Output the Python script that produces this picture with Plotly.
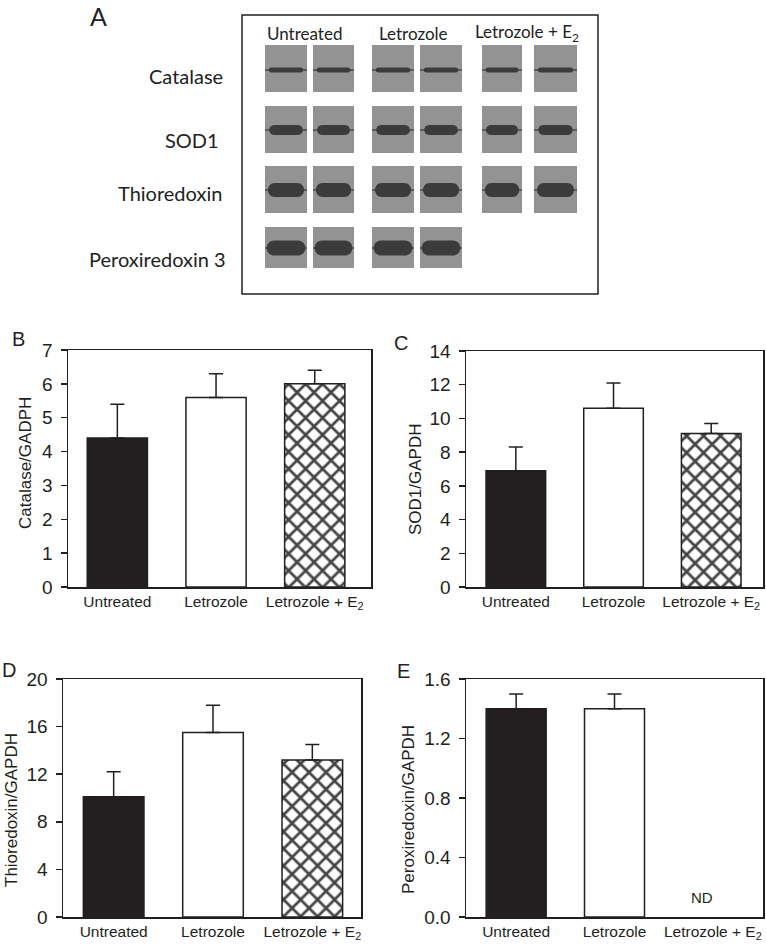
import plotly.graph_objects as go

W, H = 766, 949

# ---------------- data ----------------
categories = ["Untreated", "Letrozole", "Letrozole + E<sub>2</sub>"]
catalase = [4.4, 5.6, 6.0]
catalase_err = [1.0, 0.7, 0.4]
sod1 = [6.9, 10.6, 9.1]
sod1_err = [1.4, 1.5, 0.6]
thioredoxin = [10.1, 15.5, 13.2]
thioredoxin_err = [2.1, 2.3, 1.3]
peroxiredoxin = [1.4, 1.4, None]
peroxiredoxin_err = [0.1, 0.1, 0.0]

blot_rows = ["Catalase", "SOD1", "Thioredoxin", "Peroxiredoxin 3"]
blot_groups = ["Untreated", "Letrozole", "Letrozole + E<sub>2</sub>"]
blot_lanes_per_row = [6, 6, 6, 4]

# ---------------- layout helpers ----------------
def xd(a, b):
    return [a / W, b / W]

def yd(top, bottom):
    return [1 - bottom / H, 1 - top / H]

bar_colors = ["#231f20", "white", "white"]
pattern_shapes = ["", "", "x"]

fig = go.Figure()

panels = [
    (catalase, catalase_err, "x", "y", xd(68, 371), yd(350, 587), [-0.5, 2.57], [0, 7], 1, None),
    (sod1, sod1_err, "x2", "y2", xd(466, 763), yd(351, 587), [-0.51, 2.53], [0, 14], 2, None),
    (thioredoxin, thioredoxin_err, "x3", "y3", xd(63, 361), yd(679, 917), [-0.51, 2.49], [0, 20], 4, None),
    (peroxiredoxin, peroxiredoxin_err, "x4", "y4", xd(466, 763), yd(679, 917), [-0.51, 2.51], [0, 1.6], 0.4, ".1f"),
]

axis_font = dict(family="Liberation Sans, Arial", size=19, color="#231f20")
cat_font = dict(family="Liberation Sans, Arial", size=15.5, color="#231f20")

layout_axes = {}
for i, (vals, errs, xa, ya, xdom, ydom, xr, yr, dt, fmt) in enumerate(panels):
    fig.add_trace(go.Bar(
        x=categories, y=vals, xaxis=xa, yaxis=ya, width=0.61,
        marker=dict(color=bar_colors, line=dict(color="#231f20", width=1.5),
                    pattern=dict(shape=pattern_shapes, fgcolor="#000000", bgcolor="white",
                                 fgopacity=1, size=12, solidity=0.4)),
        error_y=dict(type="data", symmetric=False, array=errs, arrayminus=[0, 0, 0],
                     color="#231f20", thickness=1.5, width=7),
        showlegend=False, hoverinfo="skip",
    ))
    xk = "xaxis" if xa == "x" else "xaxis" + xa[1:]
    yk = "yaxis" if ya == "y" else "yaxis" + ya[1:]
    layout_axes[xk] = dict(domain=xdom, anchor=ya, range=xr, showline=True, mirror=True,
                           linecolor="#231f20", linewidth=1.5, ticks="", showgrid=False,
                           zeroline=False, tickfont=cat_font, type="category", fixedrange=True,
                           automargin=False)
    yax = dict(domain=ydom, anchor=xa, range=yr, dtick=dt, tick0=0, showline=True, mirror=True,
               linecolor="#231f20", linewidth=1.5, ticks="outside", ticklen=6, tickwidth=1.5,
               tickcolor="#231f20", showgrid=False, zeroline=False, tickfont=axis_font,
               ticklabelstandoff=4, fixedrange=True, automargin=False)
    if fmt:
        yax["tickformat"] = fmt
    layout_axes[yk] = yax

# overlay pixel axis for panel A and free text
layout_axes["xaxis5"] = dict(domain=[0, 1], anchor="y5", range=[0, W], visible=False,
                             fixedrange=True, automargin=False)
layout_axes["yaxis5"] = dict(domain=[0, 1], anchor="x5", range=[H, 0], visible=False,
                             fixedrange=True, automargin=False)
fig.add_trace(go.Scatter(x=[0], y=[0], xaxis="x5", yaxis="y5", mode="markers",
                         marker=dict(opacity=0), showlegend=False, hoverinfo="skip"))

fig.update_layout(**layout_axes)

shapes = []
annotations = []

shapes.append(dict(type="rect", xref="x5", yref="y5", x0=242, x1=598, y0=15, y1=294,
                   line=dict(color="#222", width=1.5), fillcolor="rgba(0,0,0,0)"))

lane_x = [(265, 307), (313, 354), (372, 414), (420, 462), (482, 522), (534, 577)]
row_y = [(45, 92), (106, 153), (166, 213), (227, 268)]
band_cy = [70, 130, 190, 248]
band_h = [5, 10, 14, 15]
band_wf = [0.82, 0.8, 0.86, 0.92]
row_label_y = [76, 140, 193, 259]
row_label_right = [225, 221, 224, 228]

def stadium(cx, cy, hw, hh):
    r = hh
    k = 4.0 / 3.0 * r
    x0, x1 = cx - hw + r, cx + hw - r
    return (f"M {x0},{cy-hh} L {x1},{cy-hh} C {x1+k},{cy-hh} {x1+k},{cy+hh} {x1},{cy+hh} "
            f"L {x0},{cy+hh} C {x0-k},{cy+hh} {x0-k},{cy-hh} {x0},{cy-hh} Z")

for ri in range(len(blot_rows)):
    for li in range(blot_lanes_per_row[ri]):
        a, b = lane_x[li]
        t, btm = row_y[ri]
        shapes.append(dict(type="rect", xref="x5", yref="y5", x0=a, x1=b, y0=t, y1=btm,
                           line=dict(width=0), fillcolor="#939393", layer="above"))
        cy = band_cy[ri]
        shapes.append(dict(type="line", xref="x5", yref="y5", x0=a, x1=b, y0=cy, y1=cy,
                           line=dict(color="#4a4a4a", width=1.5), layer="above"))
        cx = (a + b) / 2
        hw = (b - a) / 2 * band_wf[ri]
        shapes.append(dict(type="path", xref="x5", yref="y5", path=stadium(cx, cy, hw, band_h[ri] / 2),
                           line=dict(width=0), fillcolor="#3b3b3b", layer="above"))

lato = "Lato, Open Sans, sans-serif"
for ri, name in enumerate(blot_rows):
    annotations.append(dict(xref="x5", yref="y5", x=row_label_right[ri], y=row_label_y[ri],
                            text=name, showarrow=False, xanchor="right", yanchor="middle",
                            font=dict(family=lato, size=20, color="#222")))

group_cx = [304, 413, 527]
for gi, g in enumerate(blot_groups):
    annotations.append(dict(xref="x5", yref="y5", x=group_cx[gi], y=33, text=g, showarrow=False,
                            xanchor="center", yanchor="middle",
                            font=dict(family=lato, size=17, color="#222")))

annotations.append(dict(xref="x5", yref="y5", x=98, y=16, text="A", showarrow=False,
                        xanchor="center", yanchor="middle", font=dict(family=lato, size=25, color="#222")))

arial = "Liberation Sans, Arial"
letters = [("B", 18, 339), ("C", 401, 343), ("D", 9, 670), ("E", 403, 671)]
for t, x, y in letters:
    annotations.append(dict(xref="x5", yref="y5", x=x, y=y, text=t, showarrow=False,
                            xanchor="center", yanchor="middle", font=dict(family=arial, size=20, color="#231f20")))

ytitles = [("Catalase/GADPH", 25, 463), ("SOD1/GAPDH", 415, 480),
           ("Thioredoxin/GAPDH", 11, 810), ("Peroxiredoxin/GAPDH", 408, 810)]
for t, x, y in ytitles:
    annotations.append(dict(xref="x5", yref="y5", x=x, y=y, text=t, showarrow=False, textangle=-90,
                            xanchor="center", yanchor="middle", font=dict(family=arial, size=17, color="#231f20")))

annotations.append(dict(xref="x4", yref="y4", x=2, y=0.128, xshift=-11, text="ND", showarrow=False,
                        xanchor="center", yanchor="middle", font=dict(family=arial, size=15, color="#231f20")))

fig.update_layout(
    width=W, height=H, margin=dict(l=0, r=0, t=0, b=0, pad=0, autoexpand=False),
    paper_bgcolor="white", plot_bgcolor="rgba(0,0,0,0)",
    shapes=shapes, annotations=annotations, bargap=0.4,
)

fig.write_html("out.html", config={"displayModeBar": False, "staticPlot": True},
               post_script="document.body.style.margin='0';")
